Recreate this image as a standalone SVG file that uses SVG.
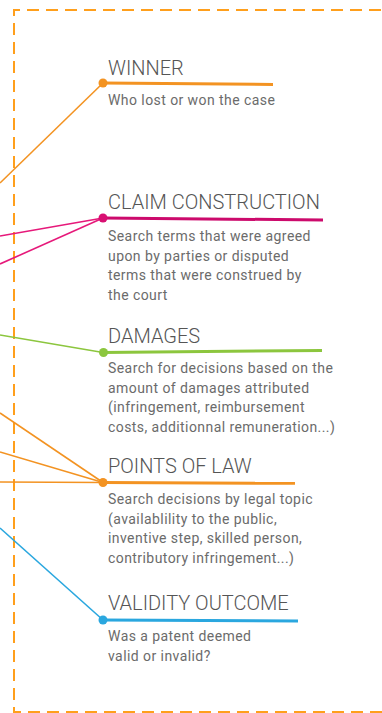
<svg xmlns="http://www.w3.org/2000/svg" width="382" height="713" viewBox="0 0 382 713">
<style>
.frame{fill:none;stroke:#ff9f1c;stroke-width:2;stroke-dasharray:12 7}
.in{fill:none;stroke-width:1.6}
.main{fill:none;stroke-width:3}
.title{font-family:Roboto,"Liberation Sans",sans-serif;font-size:20px;fill:#555555;font-weight:300}
.body{font-family:Roboto,"Liberation Sans",sans-serif;font-size:14px;fill:#6b6b6b;letter-spacing:0.43px}
.orange{stroke:#f39322}
.pink{stroke:#e6197a}
.green{stroke:#8cc63e}
.blue{stroke:#2aa7df}
</style>
<path class="frame" d="M 400 10 H 14 V 712 H 400"/>
<g id="connectors">
<line class="in orange" x1="0" y1="183" x2="103" y2="83"/>
<line class="in pink" x1="0" y1="236" x2="103" y2="218"/>
<line class="in pink" x1="0" y1="264" x2="103" y2="218"/>
<line class="in green" x1="0" y1="335" x2="103" y2="352.5"/>
<line class="in orange" x1="0" y1="413" x2="103" y2="482.5"/>
<line class="in orange" x1="0" y1="452" x2="103" y2="482.5"/>
<line class="in orange" x1="0" y1="482" x2="103" y2="482.5"/>
<line class="in blue" x1="0" y1="528" x2="103" y2="620"/>
</g>
<g id="winner">
<line class="main orange" x1="103" y1="83" x2="273" y2="84.5"/>
<circle cx="103" cy="83" r="4.5" fill="#f39322"/>
<text class="title" x="108" y="75">WINNER</text>
<text class="body" x="108" y="105">Who lost or won the case</text>
</g>
<g id="claim-construction">
<line class="main" stroke="#cc0a6c" x1="103" y1="218" x2="323" y2="220"/>
<circle cx="103" cy="218" r="4.5" fill="#d80f72"/>
<text class="title" x="108" y="209">CLAIM CONSTRUCTION</text>
<text class="body" x="108" y="241">Search terms that were agreed</text>
<text class="body" x="108" y="260.5">upon by parties or disputed</text>
<text class="body" x="108" y="280">terms that were construed by</text>
<text class="body" x="108" y="299.5">the court</text>
</g>
<g id="damages">
<line class="main green" x1="103" y1="352.5" x2="322" y2="350.5"/>
<circle cx="103.5" cy="352.5" r="4.5" fill="#8cc63e"/>
<text class="title" x="108" y="343">DAMAGES</text>
<text class="body" x="108" y="373">Search for decisions based on the</text>
<text class="body" x="108" y="392.7">amount of damages attributed</text>
<text class="body" x="108" y="412.4">(infringement, reimbursement</text>
<text class="body" x="108" y="432">costs, additionnal remuneration...)</text>
</g>
<g id="points-of-law">
<line class="main orange" x1="103" y1="482.5" x2="295" y2="483.3"/>
<circle cx="103" cy="482.5" r="4.5" fill="#f39322"/>
<text class="title" x="108" y="473">POINTS OF LAW</text>
<text class="body" x="108" y="504">Search decisions by legal topic</text>
<text class="body" x="108" y="523.7">(availablility to the public,</text>
<text class="body" x="108" y="543.4">inventive step, skilled person,</text>
<text class="body" x="108" y="563">contributory infringement...)</text>
</g>
<g id="validity-outcome">
<line class="main blue" x1="103" y1="620" x2="298" y2="621"/>
<circle cx="103" cy="620" r="4.5" fill="#2aa7df"/>
<text class="title" x="108" y="610">VALIDITY OUTCOME</text>
<text class="body" x="108" y="641">Was a patent deemed</text>
<text class="body" x="108" y="660.5">valid or invalid?</text>
</g>
</svg>
